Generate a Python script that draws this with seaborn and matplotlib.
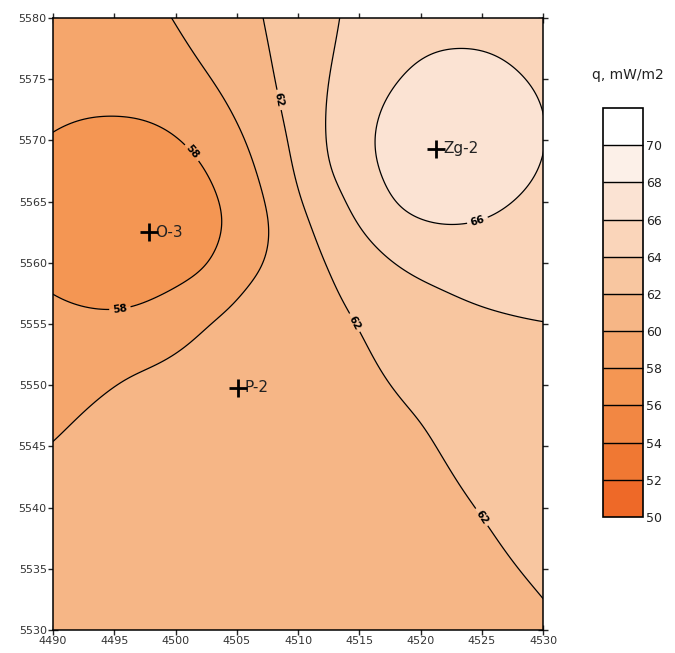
import numpy as np
import matplotlib
matplotlib.use('Agg')
import matplotlib.pyplot as plt
import seaborn as sns

# Wells (easting, northing, heat flow q)
well_names = ['O-3', 'P-2', 'Zg-2']
well_x = [4497.8, 4505.1, 4521.3]
well_y = [5562.5, 5549.8, 5569.3]
well_q = [56.6, 61.0, 67.6]

# Points, with their level
iso58_x = [4490.0, 4495.1, 4499.5, 4501.4, 4504.0, 4502.6, 4496.0, 4490.0, 4486.5]
iso58_y = [5570.6, 5571.9, 5570.8, 5569.1, 5563.5, 5559.4, 5556.1, 5557.5, 5564.0]
iso60_x = [4498.3, 4499.7, 4502.0, 4505.7, 4507.7, 4505.5, 4502.8, 4496.3, 4490.0, 4486.5]
iso60_y = [5582.5, 5580.0, 5576.3, 5570.0, 5563.5, 5558.0, 5555.3, 5551.0, 5545.3, 5542.5]
iso62_x = [4506.6, 4507.1, 4508.3, 4509.2, 4510.2, 4512.6, 4514.8, 4520.0, 4525.1, 4530.0, 4532.5]
iso62_y = [5583.0, 5580.0, 5574.0, 5570.0, 5565.0, 5559.4, 5555.2, 5547.3, 5539.3, 5532.7, 5529.5]
iso64_x = [4513.8, 4513.4, 4512.8, 4512.2, 4512.6, 4513.7, 4516.7, 4521.6, 4526.5, 4530.0, 4533.0]
iso64_y = [5583.0, 5580.0, 5576.6, 5570.0, 5567.5, 5565.7, 5561.0, 5558.0, 5556.0, 5555.2, 5554.8]
iso66_x = [4516.2, 4518.3, 4523.1, 4528.1, 4530.1, 4527.5, 4523.1, 4518.1]
iso66_y = [5570.2, 5574.9, 5577.4, 5575.4, 5570.3, 5565.0, 5563.1, 5564.4]

# Values read inside the bands
fill_x = [4490.0, 4510.5, 4517.0, 4530.0, 4530.0, 4523.1, 4495.0,
          4490.0, 4500.0, 4515.0, 4490.0, 4530.0, 4522.0]
fill_y = [5580.0, 5580.0, 5580.0, 5580.0, 5562.0, 5570.3, 5564.0,
          5530.0, 5538.0, 5530.0, 5538.0, 5545.0, 5552.0]
fill_q = [59.2, 63.0, 65.0, 65.3, 65.0, 67.7, 56.4,
          61.2, 61.0, 61.6, 60.8, 63.0, 63.0]

levels = list(range(50, 73, 2))
band_colors = ['#EE6928', '#F07833', '#F28743', '#F49653', '#F5A66C', '#F6B686',
               '#F8C6A0', '#FAD5BA', '#FBE3D3', '#FCF0E8', '#FFFFFF']
label_spots = [(4501.4, 5569.1), (4495.5, 5556.0), (4508.4, 5573.3),
               (4514.8, 5555.2), (4525.1, 5539.3), (4524.7, 5563.3)]

# gather control points
px = list(well_x) + list(fill_x)
py = list(well_y) + list(fill_y)
pq = list(well_q) + list(fill_q)
for xs, ys, lev in [(iso58_x, iso58_y, 58), (iso60_x, iso60_y, 60), (iso62_x, iso62_y, 62),
                    (iso64_x, iso64_y, 64), (iso66_x, iso66_y, 66)]:
    px += xs
    py += ys
    pq += [lev] * len(xs)
px = (np.array(px) - 4510) / 10
py = (np.array(py) - 5555) / 10
pq = np.array(pq, dtype=float)


# thin plate spline gridding (lightly smoothed)
def tps(r):
    with np.errstate(divide='ignore', invalid='ignore'):
        v = r ** 2 * np.log(r)
    return np.nan_to_num(v)


n = len(px)
K = tps(np.hypot(px[:, None] - px[None, :], py[:, None] - py[None, :])) + np.eye(n) * 0.04
P = np.column_stack([np.ones(n), px, py])
A = np.block([[K, P], [P.T, np.zeros((3, 3))]])
sol = np.linalg.solve(A, np.concatenate([pq, np.zeros(3)]))
w, a = sol[:n], sol[n:]

step = 0.125
gx = np.arange(4485, 4535 + step / 2, step)
gy = np.arange(5525, 5585 + step / 2, step)
GX, GY = np.meshgrid(gx, gy)
nx = ((GX - 4510) / 10).ravel()
ny = ((GY - 5555) / 10).ravel()
Z = tps(np.hypot(nx[:, None] - px[None, :], ny[:, None] - py[None, :])) @ w
Z = (Z + a[0] + a[1] * nx + a[2] * ny).reshape(GX.shape)

# gentle gaussian smoothing of the grid to round off kinks
sig = 0.9 / step
kx = np.arange(-int(3 * sig), int(3 * sig) + 1)
kern = np.exp(-0.5 * (kx / sig) ** 2)
kern /= kern.sum()
pad = len(kx) // 2
Zp = np.pad(Z, pad, mode='edge')
Zp = np.apply_along_axis(lambda r: np.convolve(r, kern, mode='same'), 1, Zp)
Zp = np.apply_along_axis(lambda c: np.convolve(c, kern, mode='same'), 0, Zp)
Z = Zp[pad:-pad, pad:-pad]

sns.set_style('ticks')
plt.rcParams['font.family'] = ['DejaVu Sans']

fig = plt.figure(figsize=(6.75, 6.53), dpi=100)
ax = fig.add_axes([0.0785, 0.0352, 0.726, 0.9372])

cf = ax.contourf(GX, GY, Z, levels=levels, colors=band_colors)
ax.contour(GX, GY, Z, levels=[60, 64], colors='black', linewidths=0.9)
cs = ax.contour(GX, GY, Z, levels=[58, 62, 66], colors='black', linewidths=0.9)
ax.clabel(cs, manual=label_spots, inline=True, fmt='%d',
          fontsize=7.5, colors='black', inline_spacing=2)
for t in ax.texts:
    t.set_fontweight('bold')

# wells
sns.scatterplot(x=well_x, y=well_y, marker='+', s=160, color='black', linewidth=2,
                ax=ax, legend=False, zorder=5)
for name, x, y in zip(well_names, well_x, well_y):
    ax.text(x + 0.55, y, name, fontsize=11, color='#222222', va='center', ha='left')

ax.set_xlim(4490, 4530)
ax.set_ylim(5530, 5580)
ax.set_xticks(range(4490, 4531, 5))
ax.set_yticks(range(5530, 5581, 5))
for side in ['top', 'right', 'left', 'bottom']:
    ax.spines[side].set_visible(True)
    ax.spines[side].set_linewidth(1.1)
    ax.spines[side].set_color('black')
ax.tick_params(axis='both', which='both', direction='inout', length=7, width=1,
               labelsize=8, labelcolor='#333333', pad=1,
               top=True, right=True)

cax = fig.add_axes([0.893, 0.2083, 0.06, 0.6263])
cb = fig.colorbar(cf, cax=cax, ticks=list(range(50, 71, 2)), drawedges=True)
cb.outline.set_linewidth(1.2)
cb.outline.set_edgecolor('black')
cb.dividers.set_linewidth(1.0)
cb.dividers.set_color('black')
cax.tick_params(length=0, labelsize=9, labelcolor='#222222', pad=2)
fig.text(0.93, 0.885, 'q, mW/m2', ha='center', va='center', fontsize=10, color='#222222')

fig.savefig('out.png', dpi=100)
